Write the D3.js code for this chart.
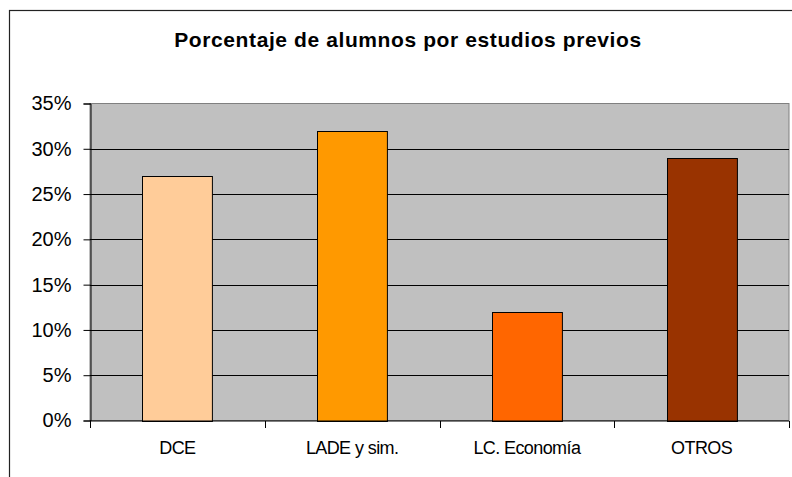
<!DOCTYPE html>
<html>
<head>
<meta charset="utf-8">
<script src="https://cdn.jsdelivr.net/npm/d3@7"></script>
<style>
  body { margin: 0; background: #fff; }
  text { font-family: "Liberation Sans", Arial, sans-serif; fill: #000; }
</style>
</head>
<body>
<svg id="chart" width="792" height="477"></svg>
<script>
// data
var categories = ["DCE", "LADE y sim.", "LC. Economía", "OTROS"];
var values = [0.27, 0.32, 0.12, 0.29];
var barColors = ["#FFCC99", "#FF9900", "#FF6600", "#993300"];
var yTicks = [0, 0.05, 0.10, 0.15, 0.20, 0.25, 0.30, 0.35];
var title = "Porcentaje de alumnos por estudios previos";

var svg = d3.select("#chart");

// outer frame (runs off the right and bottom of the picture)
svg.append("rect")
    .attr("x", 9.5).attr("y", 10.5)
    .attr("width", 800).attr("height", 480)
    .attr("fill", "#fff").attr("stroke", "#222").attr("stroke-width", 1.2);

svg.append("text")
    .attr("x", 408).attr("y", 47)
    .attr("text-anchor", "middle")
    .attr("font-size", "21px").attr("font-weight", "bold")
    .attr("letter-spacing", "0.6px")
    .text(title);

var pL = 90, pR = 789, pT = 103.5, pB = 420.5;

var x = d3.scaleBand().domain(categories).range([pL, pR])
    .paddingInner(0.6).paddingOuter(0.3);
var xCat = d3.scaleBand().domain(categories).range([pL, pR]);
var y = d3.scaleLinear().domain([0, 0.35]).range([pB, pT]);

// plot background
svg.append("rect")
    .attr("x", pL).attr("y", pT)
    .attr("width", pR - pL).attr("height", pB - pT)
    .attr("fill", "#C0C0C0").attr("stroke", "#808080").attr("stroke-width", 1);

// gridlines
svg.selectAll(".grid")
    .data(yTicks.filter(function(d){ return d > 0 && d < 0.35; }))
    .enter().append("line")
    .attr("class", "grid")
    .attr("x1", pL).attr("x2", pR)
    .attr("y1", function(d){ return Math.round(y(d)) + 0.5; })
    .attr("y2", function(d){ return Math.round(y(d)) + 0.5; })
    .attr("stroke", "#000").attr("stroke-width", 1);

// bars
svg.selectAll(".bar")
    .data(values)
    .enter().append("rect")
    .attr("class", "bar")
    .attr("x", function(d, i){ return Math.round(x(categories[i])) + 0.5; })
    .attr("width", x.bandwidth())
    .attr("y", function(d){ return Math.round(y(d)) + 0.5; })
    .attr("height", function(d){ return Math.round(pB) - Math.round(y(d)); })
    .attr("fill", function(d, i){ return barColors[i]; })
    .attr("stroke", "#000").attr("stroke-width", 1);

// y axis
var yAxis = d3.axisLeft(y).tickValues(yTicks)
    .tickFormat(d3.format(".0%")).tickSize(7).tickPadding(12);
var gy = svg.append("g").attr("transform", "translate(" + (pL + 0.5) + ",0)").call(yAxis);
gy.select(".domain").attr("stroke", "#000");
gy.selectAll(".tick line").attr("stroke", "#000");
gy.selectAll(".tick text").attr("font-size", "20px")
    .attr("font-family", "Liberation Sans, Arial, sans-serif").attr("fill", "#000");

// x axis with ticks at category boundaries
var gx = svg.append("g").attr("transform", "translate(0," + (pB + 0.5) + ")");
gx.append("line").attr("x1", pL).attr("x2", pR).attr("stroke", "#000");
gx.selectAll(".xt")
    .data(categories.concat(["end"]))
    .enter().append("line")
    .attr("class", "xt")
    .attr("x1", function(d, i){ return Math.round(pL + i * xCat.bandwidth()) + 0.5; })
    .attr("x2", function(d, i){ return Math.round(pL + i * xCat.bandwidth()) + 0.5; })
    .attr("y1", 0).attr("y2", 7)
    .attr("stroke", "#000");
gx.selectAll(".xl")
    .data(categories)
    .enter().append("text")
    .attr("class", "xl")
    .attr("x", function(d){ return xCat(d) + xCat.bandwidth() / 2; })
    .attr("y", 32.5)
    .attr("text-anchor", "middle")
    .attr("font-size", "18px")
    .attr("letter-spacing", "-0.6px")
    .text(function(d){ return d; });
</script>
</body>
</html>
